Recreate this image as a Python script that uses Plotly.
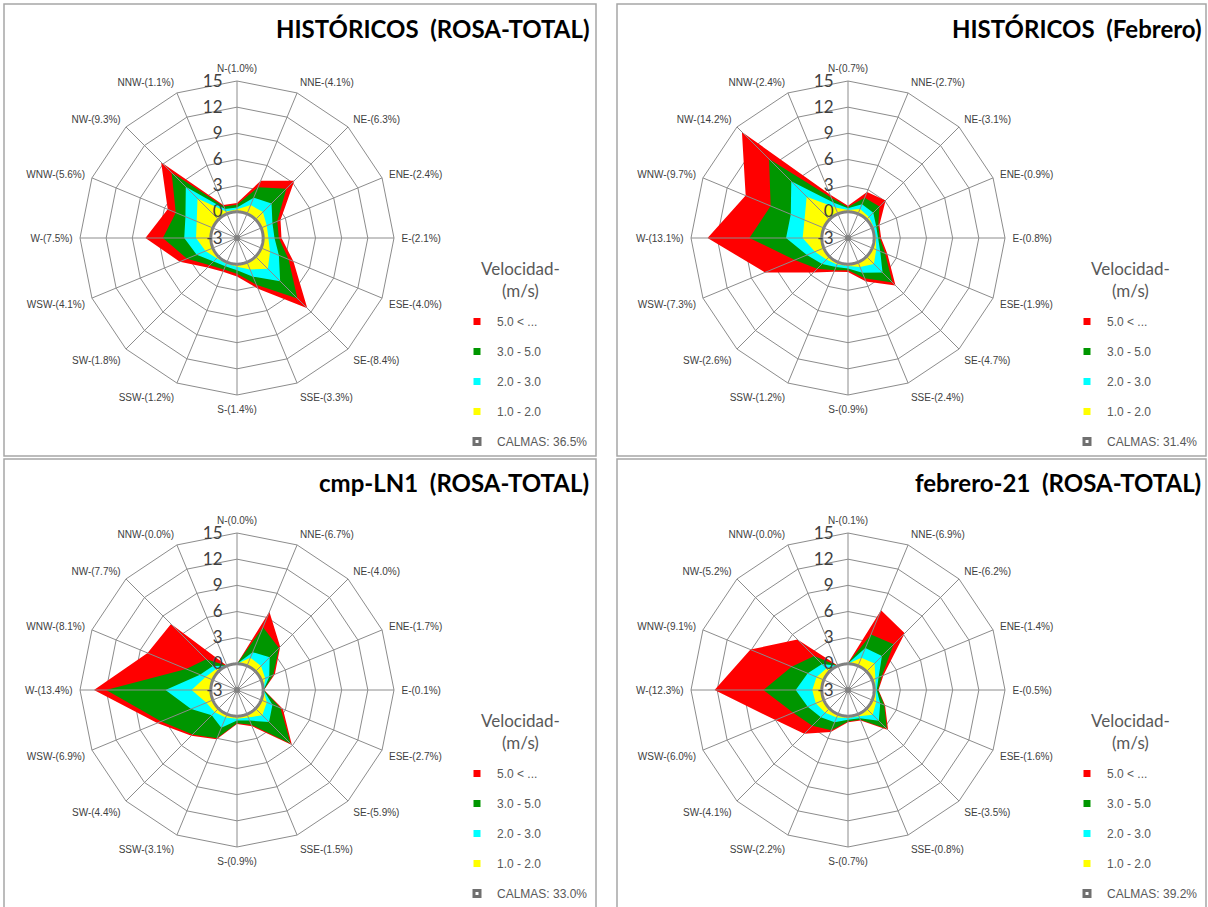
import numpy as np
import plotly.graph_objects as go

# ---------------------------------------------------------------------------
# Data: cumulative frequency (%) per direction, one array per speed class
# (each class includes all slower classes, so "5.0 < ..." is the total).
# ---------------------------------------------------------------------------
DIRECTIONS = ["N", "NNE", "NE", "ENE", "E", "ESE", "SE", "SSE",
              "S", "SSW", "SW", "WSW", "W", "WNW", "NW", "NNW"]
SPEED_CLASSES = ["5.0 < ...", "3.0 - 5.0", "2.0 - 3.0", "1.0 - 2.0"]
RADIAL_TICKS = [-3, 0, 3, 6, 9, 12, 15]

hist_total_gt5 = [1.0, 4.1, 6.3, 2.4, 2.1, 4.0, 8.4, 3.3, 1.4, 1.2, 1.8, 4.1, 7.5, 5.6, 9.3, 1.1]
hist_total_3_5 = [0.8, 3.3, 5.0, 2.0, 1.8, 3.4, 6.8, 2.8, 1.1, 0.9, 1.4, 3.2, 5.5, 4.6, 7.6, 0.9]
hist_total_2_3 = [0.5, 2.0, 2.6, 1.4, 1.3, 2.2, 4.0, 1.8, 0.7, 0.5, 0.8, 2.0, 3.05, 3.4, 5.3, 0.6]
hist_total_1_2 = [0.3, 1.1, 1.2, 0.7, 0.6, 1.1, 2.0, 0.9, 0.3, 0.2, 0.3, 0.9, 1.7, 2.0, 3.4, 0.3]
hist_total_calmas = 36.5

hist_feb_gt5 = [0.7, 2.7, 3.1, 0.9, 0.8, 1.9, 4.7, 2.4, 0.9, 1.2, 2.6, 7.3, 13.1, 9.7, 14.2, 2.4]
hist_feb_3_5 = [0.55, 2.0, 2.1, 0.75, 0.65, 1.6, 4.2, 2.0, 0.7, 1.0, 2.0, 3.6, 8.3, 6.6, 9.8, 2.0]
hist_feb_2_3 = [0.4, 1.2, 1.1, 0.5, 0.45, 1.0, 2.6, 1.3, 0.5, 0.6, 1.2, 2.1, 4.1, 4.1, 6.2, 1.4]
hist_feb_1_2 = [0.2, 0.6, 0.4, 0.2, 0.2, 0.5, 1.2, 0.6, 0.2, 0.3, 0.5, 1.1, 2.2, 2.4, 3.7, 0.8]
hist_feb_calmas = 31.4

cmp_gt5 = [0.0, 6.7, 4.0, 1.7, 0.1, 2.7, 5.9, 1.5, 0.9, 3.1, 4.4, 6.9, 13.4, 8.1, 7.7, 0.0]
cmp_3_5 = [0.0, 4.8, 3.8, 1.5, 0.08, 2.4, 5.7, 1.3, 0.8, 3.0, 4.2, 6.4, 12.0, 3.3, 2.0, 0.0]
cmp_2_3 = [0.0, 1.7, 2.3, 1.0, 0.05, 1.4, 2.2, 0.8, 0.5, 1.7, 1.1, 2.7, 5.2, 1.6, 0.9, 0.0]
cmp_1_2 = [0.0, 1.0, 0.9, 0.5, 0.02, 0.7, 1.1, 0.4, 0.3, 0.4, 0.6, 0.8, 2.2, 0.9, 0.4, 0.0]
cmp_calmas = 33.0

feb21_gt5 = [0.1, 6.9, 6.2, 1.4, 0.5, 1.6, 3.5, 0.8, 0.7, 2.2, 4.1, 6.0, 12.3, 9.1, 5.2, 0.0]
feb21_3_5 = [0.08, 3.9, 4.4, 1.2, 0.45, 1.5, 3.3, 0.7, 0.6, 2.0, 2.8, 3.8, 6.7, 4.0, 2.5, 0.0]
feb21_2_3 = [0.05, 2.2, 2.5, 0.8, 0.3, 1.0, 2.0, 0.5, 0.4, 1.0, 1.4, 2.0, 3.0, 2.0, 1.2, 0.0]
feb21_1_2 = [0.02, 1.0, 1.3, 0.4, 0.15, 0.5, 1.0, 0.25, 0.2, 0.4, 0.7, 1.0, 1.1, 0.9, 0.5, 0.0]
feb21_calmas = 39.2

panels = [
    dict(title="HISTÓRICOS\u00a0 (ROSA-TOTAL)",
         series=[hist_total_gt5, hist_total_3_5, hist_total_2_3, hist_total_1_2],
         calmas=hist_total_calmas),
    dict(title="HISTÓRICOS\u00a0 (Febrero)",
         series=[hist_feb_gt5, hist_feb_3_5, hist_feb_2_3, hist_feb_1_2],
         calmas=hist_feb_calmas),
    dict(title="cmp-LN1\u00a0 (ROSA-TOTAL)",
         series=[cmp_gt5, cmp_3_5, cmp_2_3, cmp_1_2],
         calmas=cmp_calmas),
    dict(title="febrero-21\u00a0 (ROSA-TOTAL)",
         series=[feb21_gt5, feb21_3_5, feb21_2_3, feb21_1_2],
         calmas=feb21_calmas),
]

# ---------------------------------------------------------------------------
# Styling / layout
# ---------------------------------------------------------------------------
W, H = 1208, 907
CLASS_COLORS = ["#FF0000", "#009600", "#00FFFF", "#FFFF00"]
GRID = "#8C8C8C"
RING = "#808080"
TEXT = "#404040"
LEGEND_TEXT = "#595959"
BORDER = "#A6A6A6"
R_PX = 157  # polar radius in pixels

# panel frames (pixels): x0, y0, x1, y1 ; rose centres ; title right edge ; legend anchor
frames = [(4, 4, 596, 456), (617, 4, 1206, 456), (4, 459, 596, 912), (617, 459, 1206, 912)]
centres = [(237, 238), (848, 238), (237, 690), (848, 690)]
title_pos = [(591, 28), (1203, 28), (591, 482), (1203, 482)]
legend_pos = [(457, 307), (1067, 307), (457, 759), (1067, 759)]
legend_title_pos = [(520, 279), (1130, 279), (520, 731), (1130, 731)]

fig = go.Figure()
layout = dict(
    width=W, height=H,
    margin=dict(l=0, r=0, t=0, b=0, autoexpand=False),
    paper_bgcolor="white", plot_bgcolor="white",
    showlegend=True,
    shapes=[], annotations=[],
)

ring_theta = np.linspace(0, 360, 361)


def pid(n):
    return "polar" if n == 1 else f"polar{n}"


for k, p in enumerate(panels):
    cx, cy = centres[k]
    dom = dict(x=[(cx - R_PX) / W, (cx + R_PX) / W],
               y=[1 - (cy + R_PX) / H, 1 - (cy - R_PX) / H])
    pa, pb, pc = pid(3 * k + 1), pid(3 * k + 2), pid(3 * k + 3)
    leg = "legend" if k == 0 else f"legend{k + 1}"

    totals = p["series"][0]
    labels = [f"{d}-({v:.1f}%)" for d, v in zip(DIRECTIONS, totals)]

    # stacked filled areas, outermost class first
    for vals, color, name in zip(p["series"], CLASS_COLORS, SPEED_CLASSES):
        fig.add_trace(go.Scatterpolar(
            r=list(vals) + [vals[0]], theta=labels + [labels[0]],
            subplot=pa, mode="lines", fill="toself", fillcolor=color,
            line=dict(width=0, color=color), showlegend=False, hoverinfo="skip"))

    # calm circle (r = 0): white disc with grey outline
    fig.add_trace(go.Scatterpolar(
        r=np.zeros_like(ring_theta), theta=ring_theta, subplot=pb,
        mode="lines", fill="toself", fillcolor="white",
        line=dict(color=RING, width=3), showlegend=False, hoverinfo="skip"))

    # centre hub
    fig.add_trace(go.Scatterpolar(
        r=[RADIAL_TICKS[0]], theta=[0], subplot=pc, mode="markers",
        marker=dict(color=RING, size=6), showlegend=False, hoverinfo="skip"))

    # legend entries
    for color, name in zip(CLASS_COLORS, SPEED_CLASSES):
        fig.add_trace(go.Scatterpolar(
            r=[None], theta=[None], subplot=pc, mode="markers", name=name,
            marker=dict(symbol="square", size=7, color=color),
            legend=leg, legendgroup=f"{k}-{name}", showlegend=True))
    fig.add_trace(go.Scatterpolar(
        r=[None], theta=[None], subplot=pc, mode="markers",
        name=f"CALMAS: {p['calmas']:.1f}%",
        marker=dict(symbol="square", size=6, color="white", line=dict(color="#707070", width=3)),
        legend=leg, legendgroup=f"{k}-calmas", showlegend=True))

    # polygon grid + direction labels
    layout[pa] = dict(
        domain=dom, bgcolor="white", gridshape="linear",
        radialaxis=dict(range=[-3, 15], tickvals=RADIAL_TICKS, showticklabels=False,
                        ticks="", showline=False, gridcolor=GRID, gridwidth=1),
        angularaxis=dict(type="category", categoryarray=labels, direction="clockwise",
                         rotation=90, showgrid=False, ticks="outside", ticklen=5,
                         tickcolor="rgba(0,0,0,0)", showline=True,
                         linecolor=GRID, linewidth=1,
                         tickfont=dict(family="Liberation Sans", size=10, color=TEXT)),
    )
    # calm disc layer
    layout[pb] = dict(
        domain=dom, bgcolor="rgba(0,0,0,0)",
        radialaxis=dict(range=[-3, 15], visible=False),
        angularaxis=dict(visible=False, direction="clockwise", rotation=90),
    )
    # spokes and value labels drawn over the areas
    layout[pc] = dict(
        domain=dom, bgcolor="rgba(0,0,0,0)",
        radialaxis=dict(range=[-3, 15], tickvals=RADIAL_TICKS,
                        ticktext=[str(t) for t in RADIAL_TICKS],
                        showgrid=False, showline=False, angle=90, side="counterclockwise",
                        tickangle=90, ticks="outside", ticklen=8,
                        tickcolor="rgba(0,0,0,0)", layer="above traces",
                        tickfont=dict(family="Lato", size=17, color=TEXT)),
        angularaxis=dict(direction="clockwise", rotation=90, tickmode="array",
                         tickvals=[i * 22.5 for i in range(16)], showticklabels=False,
                         ticks="", showline=False, showgrid=True, gridcolor=GRID, gridwidth=1),
    )

    layout[leg] = dict(
        x=legend_pos[k][0] / W, y=1 - legend_pos[k][1] / H, xanchor="left", yanchor="top",
        bgcolor="rgba(0,0,0,0)", traceorder="grouped", tracegroupgap=11,
        itemsizing="trace",
        font=dict(family="Liberation Sans", size=12, color=LEGEND_TEXT),
    )
    lx, ly = legend_title_pos[k]
    layout["annotations"].append(dict(
        text="Velocidad-<br>(m/s)", xref="paper", yref="paper",
        x=lx / W, y=1 - ly / H, xanchor="center", yanchor="middle", align="center",
        showarrow=False, font=dict(family="Lato", size=17, color=LEGEND_TEXT)))

    x0, y0, x1, y1 = frames[k]
    layout["shapes"].append(dict(
        type="rect", xref="paper", yref="paper",
        x0=x0 / W, x1=x1 / W, y0=1 - y1 / H, y1=1 - y0 / H,
        line=dict(color=BORDER, width=1.5), fillcolor="rgba(0,0,0,0)", layer="below"))
    tx, ty = title_pos[k]
    layout["annotations"].append(dict(
        text=f"<b>{p['title']}</b>", xref="paper", yref="paper",
        x=tx / W, y=1 - ty / H, xanchor="right", yanchor="middle", showarrow=False,
        font=dict(family="Lato", size=24, color="black")))

fig.update_layout(**layout)
fig.write_html("out.html")
